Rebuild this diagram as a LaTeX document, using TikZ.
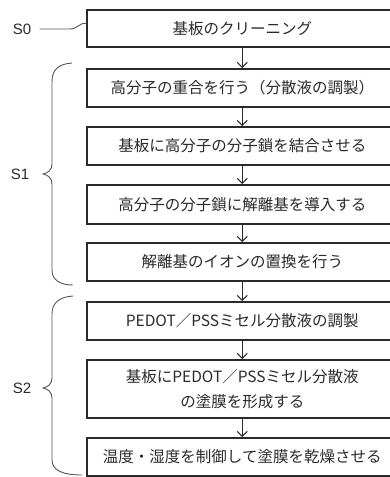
\documentclass[tikz,border=0pt]{standalone}
\usepackage{fontspec}
\setmainfont{Noto Sans CJK JP}
\newfontfamily\latinsans{Liberation Sans}
\usetikzlibrary{arrows.meta}
\definecolor{ink}{HTML}{2A2A2A}
\definecolor{brace}{HTML}{555555}
\begin{document}
\begin{tikzpicture}[x=1pt,y=-1pt,
  stepbox/.style={draw=ink, line width=1.5pt, minimum width=311pt, inner sep=0pt,
    font=\fontsize{15.5}{25}\selectfont, text=ink, align=center, anchor=north west},
  flow/.style={-{Straight Barb[length=5pt,width=10pt]}, line width=1pt, draw=ink},
  grp/.style={draw=brace, line width=0.9pt},
  lbl/.style={font=\latinsans\fontsize{15}{15}\selectfont, text=ink}]
\useasboundingbox (0,0) rectangle (390,477);
\clip (0,0) rectangle (390,477);

\node[stepbox, minimum height=37pt] (b0) at (86,9)   {基板のクリーニング};
\node[stepbox, minimum height=38pt] (b1) at (86,68)  {高分子の重合を行う（分散液の調製）};
\node[stepbox, minimum height=38pt] (b2) at (86,126) {基板に高分子の分子鎖を結合させる};
\node[stepbox, minimum height=39pt] (b3) at (86,184) {高分子の分子鎖に解離基を導入する};
\node[stepbox, minimum height=38pt] (b4) at (86,242) {解離基のイオンの置換を行う};
\node[stepbox, minimum height=38pt] (b5) at (86,301) {PEDOT／PSSミセル分散液の調製};
\node[stepbox, minimum height=58pt] (b6) at (86,359) {基板にPEDOT／PSSミセル分散液\\の塗膜を形成する};
\node[stepbox, minimum height=38pt] (b7) at (86,437) {温度・湿度を制御して塗膜を乾燥させる};

\foreach \a/\b in {b0/b1,b1/b2,b2/b3,b3/b4,b4/b5,b5/b6,b6/b7}
  \draw[flow] (\a.south) -- (\b.north);

\node[lbl] (s0) at (22,29) {S0};
\node[lbl] (s1) at (20,174) {S1};
\node[lbl] (s2) at (22,388) {S2};

\draw[grp] ([xshift=5pt]s0.east) -- ++(30,0)
  .. controls +(8,0) and +(-6,-1) .. ([yshift=5pt]b0.west);

\draw[grp] (72,63) .. controls (58,64) and (52,70) .. (52,82) -- (52,164)
  .. controls (52,170) and (48,173) .. (43,174)
  .. controls (48,175) and (52,178) .. (52,184) -- (52,270)
  .. controls (52,280) and (60,285) .. (73,285);

\draw[grp] (73,296) .. controls (59,297) and (52,303) .. (52,314) -- (52,378)
  .. controls (52,384) and (48,387) .. (43,388)
  .. controls (48,389) and (52,392) .. (52,398) -- (52,460)
  .. controls (52,470) and (62,475) .. (82,475);
\end{tikzpicture}
\end{document}
